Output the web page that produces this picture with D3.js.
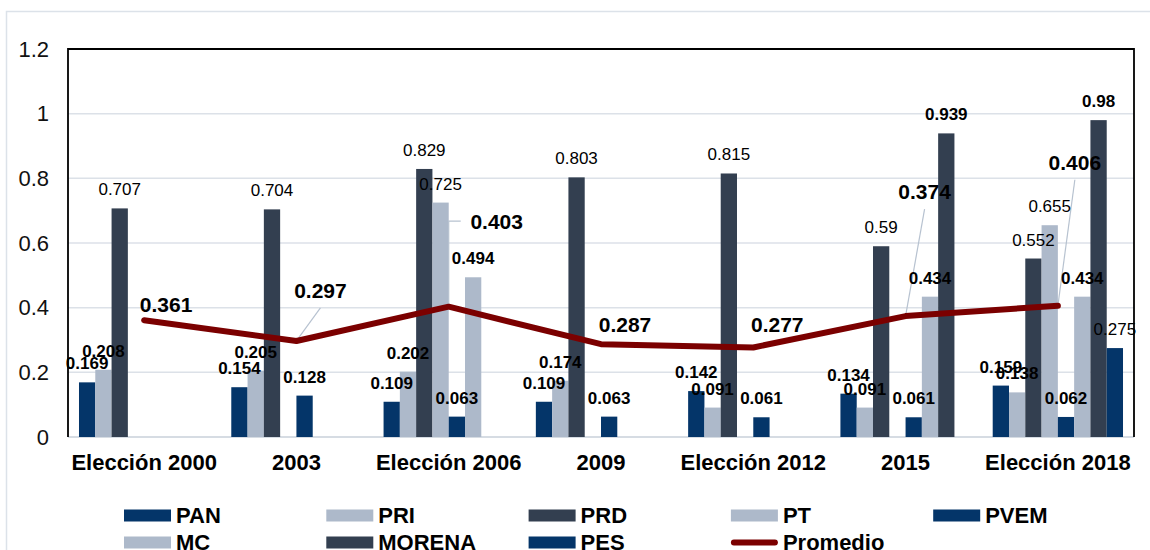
<!DOCTYPE html>
<html>
<head>
<meta charset="utf-8">
<script src="https://cdn.jsdelivr.net/npm/d3@7/dist/d3.min.js"></script>
<style>
  html, body { margin: 0; padding: 0; background: #fff; }
  svg { display: block; font-family: "Liberation Sans", Arial, sans-serif; }
</style>
</head>
<body>
<svg id="chart" width="1150" height="550"></svg>
<script>
// ---- data ----
const categories = ["Elección 2000", "2003", "Elección 2006", "2009", "Elección 2012", "2015", "Elección 2018"];
const seriesNames = ["PAN", "PRI", "PRD", "PT", "PVEM", "MC", "MORENA", "PES"];
const PAN    = [0.169, 0.154, 0.109, 0.109, 0.142, 0.134, 0.159];
const PRI    = [0.208, 0.205, 0.202, 0.174, 0.091, 0.091, 0.138];
const PRD    = [0.707, 0.704, 0.829, 0.803, 0.815, 0.59, 0.552];
const PT     = [null, null, 0.725, null, null, null, 0.655];
const PVEM   = [null, 0.128, 0.063, 0.063, 0.061, 0.061, 0.062];
const MC     = [null, null, 0.494, null, null, 0.434, 0.434];
const MORENA = [null, null, null, null, null, 0.939, 0.98];
const PES    = [null, null, null, null, null, null, 0.275];
const Promedio = [0.361, 0.297, 0.403, 0.287, 0.277, 0.374, 0.406];
const yTicks = [0, 0.2, 0.4, 0.6, 0.8, 1, 1.2];
const yTickLabels = ["0", "0.2", "0.4", "0.6", "0.8", "1", "1.2"];

// ---- styling (kept separate from data) ----
const seriesValues = { PAN, PRI, PRD, PT, PVEM, MC, MORENA, PES };
const seriesColor = { PAN: "#043569", PRI: "#ADB9CA", PRD: "#333F50", PT: "#ADB9CA",
                      PVEM: "#043569", MC: "#ADB9CA", MORENA: "#333F50", PES: "#043569" };
const seriesBoldLabel = { PAN: true, PRI: true, PRD: false, PT: false, PVEM: true, MC: true, MORENA: true, PES: false };
const lineColor = "#7B0000";
// average label placement: offset of label (centre x, baseline) from its point, leader style
const avgLabelPlacement = [
  { dx: 22, dy: -8, leader: "none" },
  { dx: 24, dy: -43, leader: "line" },
  { dx: 48, dy: -78, leader: "elbow" },
  { dx: 24, dy: -12.5, leader: "none" },
  { dx: 24, dy: -15, leader: "none" },
  { dx: 19, dy: -117, leader: "line" },
  { dx: 17, dy: -136, leader: "line" }
];

const svg = d3.select("#chart");
const plot = { left: 68, right: 1134, top: 49, bottom: 437 };

// outer chart border
svg.append("rect").attr("x", 6.5).attr("y", 11.5).attr("width", 1170).attr("height", 570)
  .attr("fill", "#fff").attr("stroke", "#DCE2E9").attr("stroke-width", 1.5);

const y = d3.scaleLinear().domain([0, 1.2]).range([plot.bottom, plot.top]);
const x0 = d3.scaleBand().domain(categories).range([plot.left, plot.right]).padding(0);
const x1 = d3.scaleBand().domain(seriesNames).range([0, x0.bandwidth()])
  .paddingInner(0).paddingOuter(0.675);

// gridlines
svg.append("g").selectAll("line").data(yTicks.filter(t => t > 0 && t < 1.2)).join("line")
  .attr("x1", plot.left).attr("x2", plot.right)
  .attr("y1", d => y(d)).attr("y2", d => y(d))
  .attr("stroke", "#DCE1E8").attr("stroke-width", 1.5);
// bottom axis line
svg.append("line").attr("x1", plot.left).attr("x2", plot.right)
  .attr("y1", y(0)).attr("y2", y(0)).attr("stroke", "#C9D0DA").attr("stroke-width", 1.5);

// y axis labels
const yAxis = d3.axisLeft(y).tickValues(yTicks).tickSize(0).tickPadding(19)
  .tickFormat((d, i) => yTickLabels[i]);
const gy = svg.append("g").attr("transform", `translate(${plot.left},0)`).call(yAxis);
gy.select(".domain").remove();
gy.selectAll("text").attr("font-size", 22).attr("fill", "#111")
  .attr("font-family", "Liberation Sans, Arial, sans-serif");

// x axis labels
const xAxis = d3.axisBottom(x0).tickSize(0).tickPadding(0);
const gx = svg.append("g").attr("transform", `translate(0,${plot.bottom})`).call(xAxis);
gx.select(".domain").remove();
gx.selectAll("text").attr("dy", 0).attr("y", 33).attr("font-size", 22).attr("font-weight", "bold")
  .attr("fill", "#000").attr("font-family", "Liberation Sans, Arial, sans-serif");

// bars
const barData = [];
categories.forEach((c, i) => {
  seriesNames.forEach(s => {
    const v = seriesValues[s][i];
    if (v !== null && v !== undefined) barData.push({ c, s, v });
  });
});
svg.append("g").selectAll("rect").data(barData).join("rect")
  .attr("x", d => x0(d.c) + x1(d.s))
  .attr("y", d => y(d.v))
  .attr("width", x1.bandwidth())
  .attr("height", d => y(0) - y(d.v))
  .attr("fill", d => seriesColor[d.s]);

// plot frame (black) left, top, right
svg.append("path")
  .attr("d", `M${plot.left},${plot.bottom} V${plot.top} H${plot.right} V${plot.bottom}`)
  .attr("fill", "none").attr("stroke", "#000").attr("stroke-width", 1.8);

// leader lines for average labels
const px = i => x0(categories[i]) + x0.bandwidth() / 2;
const leaders = svg.append("g").attr("stroke", "#B7C2D0").attr("stroke-width", 1.2).attr("fill", "none");
Promedio.forEach((v, i) => {
  const p = avgLabelPlacement[i];
  const X = px(i), Y = y(v);
  const lx = X + p.dx, ly = Y + p.dy;
  if (p.leader === "line") {
    leaders.append("line").attr("x1", X).attr("y1", Y).attr("x2", lx).attr("y2", ly + 10);
  } else if (p.leader === "elbow") {
    leaders.append("path").attr("d", `M${X},${Y} V${ly - 7.5} H${lx - 36}`);
  }
});

// average line
const line = d3.line().x((d, i) => px(i)).y(d => y(d));
svg.append("path").datum(Promedio).attr("d", line)
  .attr("fill", "none").attr("stroke", lineColor).attr("stroke-width", 6)
  .attr("stroke-linecap", "round").attr("stroke-linejoin", "round");

// bar labels
svg.append("g").selectAll("text").data(barData).join("text")
  .attr("x", d => x0(d.c) + x1(d.s) + x1.bandwidth() / 2)
  .attr("y", d => y(d.v) - 13)
  .attr("text-anchor", "middle")
  .attr("font-size", 17)
  .attr("font-weight", d => seriesBoldLabel[d.s] ? "bold" : "normal")
  .attr("fill", "#000")
  .text(d => String(d.v));

// average labels
svg.append("g").selectAll("text").data(Promedio).join("text")
  .attr("x", (d, i) => px(i) + avgLabelPlacement[i].dx)
  .attr("y", (d, i) => y(d) + avgLabelPlacement[i].dy)
  .attr("text-anchor", "middle")
  .attr("font-size", 21)
  .attr("font-weight", "bold")
  .attr("fill", "#000")
  .text(d => String(d));

// legend
const legendItems = seriesNames.concat(["Promedio"]);
const legendX0 = 124, legendColW = 202.3, legendRowY = [523, 550];
const lg = svg.append("g");
legendItems.forEach((name, i) => {
  const col = i % 5, row = Math.floor(i / 5);
  const lx = legendX0 + col * legendColW;
  const base = legendRowY[row];
  const mid = base - 7.5;
  if (name === "Promedio") {
    lg.append("line").attr("x1", lx + 3).attr("x2", lx + 44).attr("y1", mid).attr("y2", mid)
      .attr("stroke", lineColor).attr("stroke-width", 6).attr("stroke-linecap", "round");
  } else {
    lg.append("rect").attr("x", lx).attr("y", mid - 6).attr("width", 47).attr("height", 12)
      .attr("fill", seriesColor[name]);
  }
  lg.append("text").attr("x", lx + 52).attr("y", base)
    .attr("font-size", 22).attr("font-weight", "bold").attr("fill", "#000").text(name);
});
</script>
</body>
</html>
